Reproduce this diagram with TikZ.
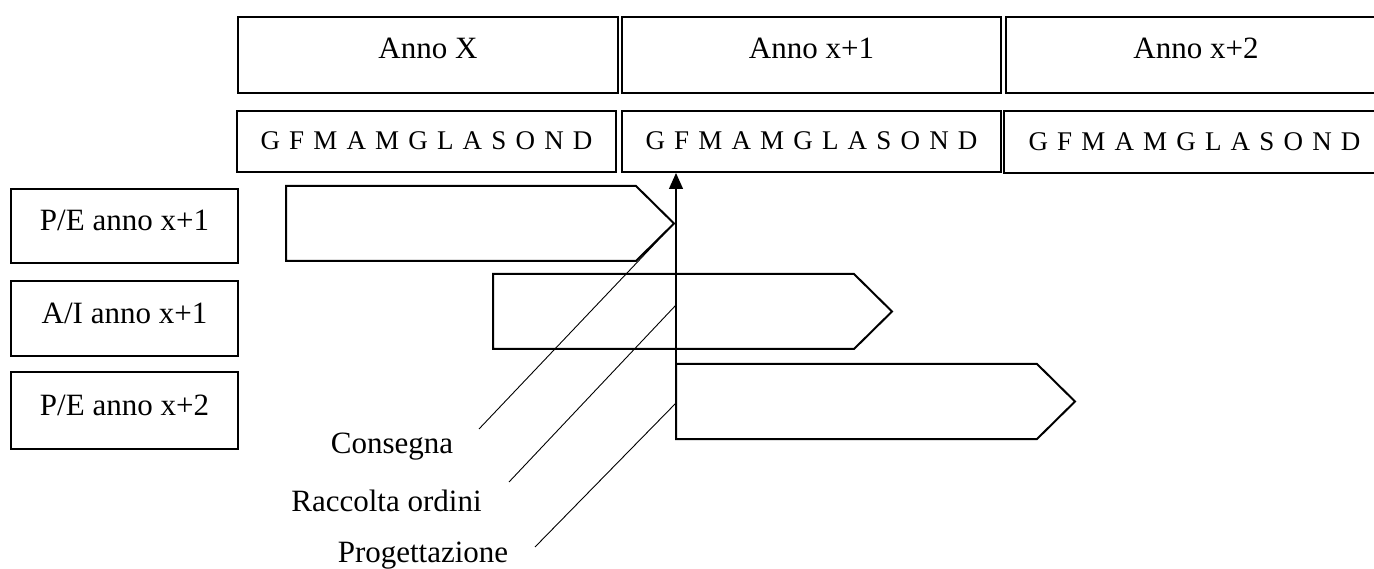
\documentclass[tikz,border=0pt]{standalone}
\usepackage{fontspec}
\setmainfont{Liberation Serif}
\usetikzlibrary{arrows.meta}
\tikzset{
  yearbox/.style={draw, line width=2pt, inner sep=0pt, anchor=north west,
    font=\fontsize{31}{36}\selectfont, text height=20pt, text depth=12pt},
  monthbox/.style={draw, line width=2pt, inner sep=0pt, anchor=north west,
    font=\fontsize{27}{32}\selectfont, text height=18pt, text depth=1pt},
  rowbox/.style={draw, line width=2pt, inner sep=0pt, anchor=north west,
    font=\fontsize{31}{36}\selectfont, text height=20pt, text depth=10pt},
  phase/.style={draw, line width=2pt, line join=miter},
  leader/.style={draw, line width=0.9pt},
  milestone/.style={draw, line width=1.3pt, -{Triangle[length=16pt,width=14pt]}},
  caption/.style={anchor=base, inner sep=0pt, font=\fontsize{31}{36}\selectfont},
}
\newcommand{\monthrow}{\makebox[332pt][s]{G F M A M G L A S O N D}}
\begin{document}
\begin{tikzpicture}[x=1pt, y=-1pt]
  \useasboundingbox (0,0) rectangle (1374,569);
  \clip (0,0) rectangle (1374,569);

  % years
  \node[yearbox, minimum width=380pt, minimum height=76pt] (y1) at (237,16) {Anno X};
  \node[yearbox, minimum width=379pt, minimum height=76pt] (y2) at (621,16) {Anno x+1};
  \node[yearbox, minimum width=380pt, minimum height=76pt] (y3) at (1005,16) {Anno x+2};

  % months
  \node[monthbox, minimum width=379pt, minimum height=61pt] (m1) at (236,110) {\monthrow};
  \node[monthbox, minimum width=379pt, minimum height=61pt] (m2) at (621,110) {\monthrow};
  \node[monthbox, minimum width=381pt, minimum height=62pt] (m3) at (1003,110) {\monthrow};

  % row headers
  \node[rowbox, minimum width=227pt, minimum height=74pt] (r1) at (10,188) {P/E anno x+1};
  \node[rowbox, minimum width=227pt, minimum height=75pt] (r2) at (10,280) {A/I anno x+1};
  \node[rowbox, minimum width=227pt, minimum height=77pt] (r3) at (10,371) {P/E anno x+2};

  % phase bars
  \coordinate (p1tip) at (674,223.5);
  \draw[phase] (286,186) -- (636,186) -- (p1tip) -- (636,261) -- (286,261) -- cycle;
  \draw[phase] (493,274) -- (854,274) -- (892,311.5) -- (854,349) -- (493,349) -- cycle;
  \coordinate (p3corner) at (676,364);
  \draw[phase] (p3corner) -- (1037,364) -- (1075,401.5) -- (1037,439) -- (676,439) -- cycle;

  % milestone marker up to the month scale
  \draw[milestone] (p3corner) -- (m2.south -| p3corner);

  % labels and leader lines
  \node[caption] (consegna) at (392,453) {Consegna};
  \node[caption] (raccolta) at (386.5,511) {Raccolta ordini};
  \node[caption] (progett) at (423,562) {Progettazione};
  \coordinate (c1) at (479,429);
  \coordinate (c2) at (509,482);
  \coordinate (c3) at (535,547);
  \coordinate (v2) at (676,305);
  \coordinate (v3) at (676,403);
  \draw[leader] (p1tip) -- (c1);
  \draw[leader] (v2) -- (c2);
  \draw[leader] (v3) -- (c3);
\end{tikzpicture}
\end{document}
